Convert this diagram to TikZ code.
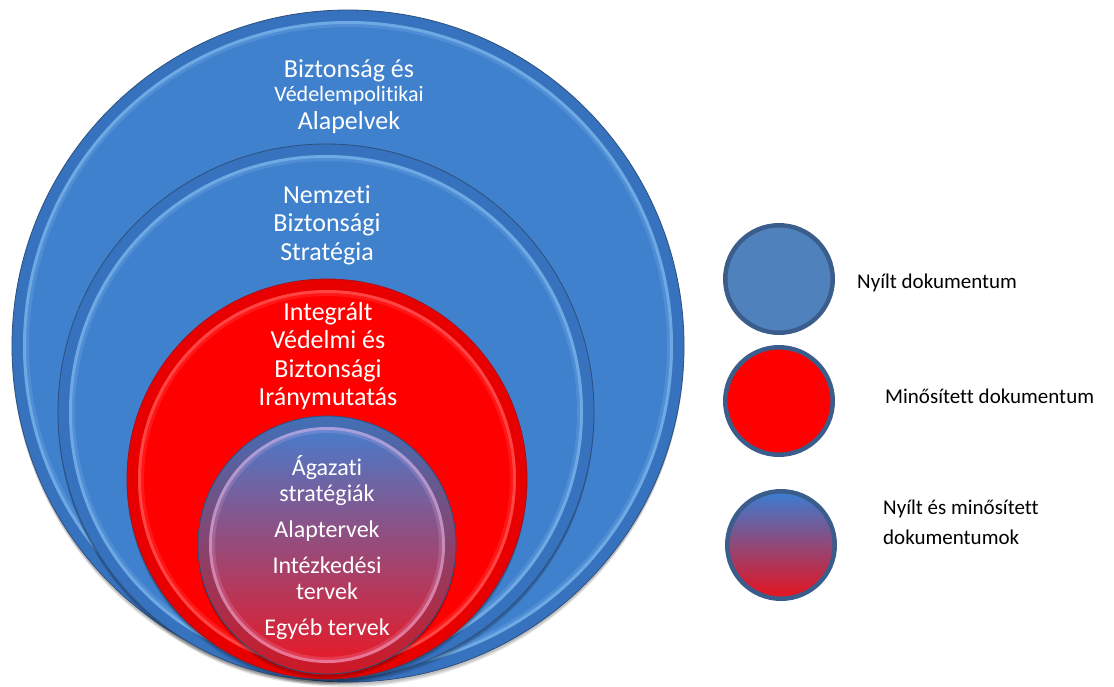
\documentclass[tikz,border=0pt]{standalone}
\usepackage{fontspec}
\setmainfont{Carlito}[Ligatures=NoCommon]
\definecolor{bmain}{RGB}{64,129,205}
\definecolor{bedge}{RGB}{55,114,190}
\definecolor{bline}{RGB}{45,80,125}
\definecolor{blight}{RGB}{150,202,248}
\definecolor{rmain}{RGB}{255,0,0}
\definecolor{redge}{RGB}{232,0,0}
\definecolor{rline}{RGB}{160,20,30}
\definecolor{rlight}{RGB}{255,125,125}
\definecolor{gtop}{RGB}{72,124,204}
\definecolor{gmid}{RGB}{136,80,130}
\definecolor{gbot}{RGB}{230,26,40}
\definecolor{glight}{RGB}{240,190,235}
\definecolor{lgborder}{RGB}{58,93,140}
\definecolor{lgblue}{RGB}{79,129,189}
\definecolor{lgtop}{RGB}{58,126,212}
\definecolor{lgmid}{RGB}{134,84,130}
\definecolor{lgbot}{RGB}{232,18,28}
\newcommand\softshadow[3]{%
  \foreach \k in {1,2,3}{\fill[black,opacity=.09] (#1,#2+\k*1.8) circle ({(#3+1-\k*0.5)*1pt});}}
% name, x, y, r, edge, main, light, outline
\newcommand\bevelc[8]{%
  \softshadow{#2}{#3}{#4}
  \node[circle, inner sep=0pt, minimum size={2*#4*1pt}, fill=#5, draw=#8, line width=0.8pt] (#1) at (#2,#3) {};
  \fill[#6] (#1.center) circle ({(#4-11)*1pt});
  \draw[#7, line width=3pt, opacity=.55] (#1.center) circle ({(#4-12.5)*1pt});
  \draw[#7, line width=3pt, opacity=.18] (#1.center) circle ({(#4-15.5)*1pt});
}
\tikzset{
  wt/.style={text=white, align=center, inner sep=0pt, font=\fontsize{26}{28.5}\selectfont},
  wts/.style={text=white, align=center, inner sep=0pt, font=\fontsize{22}{24}\selectfont},
  wtc/.style={text=white, align=center, inner sep=0pt, font=\fontsize{24}{26}\selectfont},
  lgc/.style={circle, inner sep=0pt, minimum size=107.5pt, line width=4.5pt, draw=lgborder},
  lgt/.style={text=black, align=left, inner sep=0pt, anchor=west, font=\fontsize{21}{30}\selectfont}
}
\begin{document}
\begin{tikzpicture}[x=1pt,y=-1pt]
\useasboundingbox (0,0) rectangle (1114,686);
% nested circles
\bevelc{big}{348}{346}{336}{bedge}{bmain}{blight}{bline}
\bevelc{nbs}{326}{412}{268}{bedge}{bmain}{blight}{bline}
\bevelc{ivb}{327}{479}{200}{redge}{rmain}{rlight}{rline}
\softshadow{327}{545}{129}
\node[circle, inner sep=0pt, minimum size=258pt, top color=gtop!90!black, middle color=gmid!90!black, bottom color=gbot!90!black, draw=bline, line width=0.8pt] (small) at (327,545) {};
\shade[top color=gtop, middle color=gmid, bottom color=gbot] (small.center) circle (118pt);
\draw[glight, line width=3pt, opacity=.55] (small.center) circle (116.5pt);
\draw[glight, line width=3pt, opacity=.18] (small.center) circle (113.5pt);
% texts
\node[wt, anchor=base] (t1a) at (349,77) {Biztonság és};
\node[wts, anchor=base] (t1b) at (349,101) {Védelempolitikai};
\node[wt, anchor=base] (t1c) at (349,129) {Alapelvek};
\node[wt] (t2) at (327,225) {Nemzeti\\Biztonsági\\Stratégia};
\node[wt] (t3) at (328,356) {Integrált\\Védelmi és\\Biztonsági\\Iránymutatás};
\node[wtc] (t4) at (327,548) {Ágazati\\stratégiák\\[10pt]Alaptervek\\[10pt]Intézkedési\\tervek\\[10pt]Egyéb tervek};
% legend
\node[lgc, fill=lgblue] (l1) at (779,279) {};
\node[lgc, fill=red] (l2) at (779,401) {};
\node[lgc, top color=lgtop, middle color=lgmid, bottom color=lgbot] (l3) at (781,545) {};
\node[lgt] (l1t) at (857,283) {Nyílt dokumentum};
\node[lgt] (l2t) at (885,396) {Minősített dokumentum};
\node[lgt] (l3t) at (883,522) {Nyílt és minősített\\dokumentumok};
\end{tikzpicture}
\end{document}
